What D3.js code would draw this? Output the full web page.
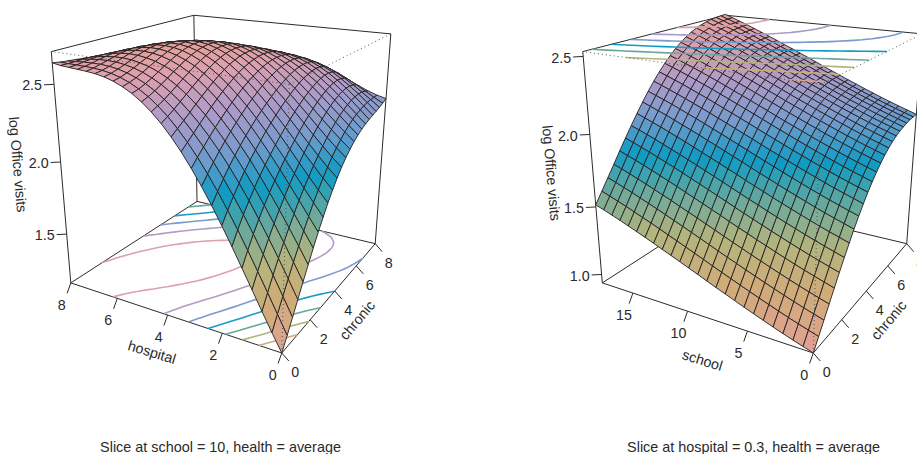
<!DOCTYPE html><html><head><meta charset="utf-8"><script src="https://cdn.jsdelivr.net/npm/d3@7"></script>
<style>html,body{margin:0;background:#fff}svg{display:block}text{font-family:"Liberation Sans",sans-serif;fill:#2a2a2a}</style></head><body><svg id="c" width="917" height="454"></svg>
<script>
// Left panel: log Office visits (thousandths); rows = hospital 0..8, columns = chronic 0..8, 25 grid lines each
const visitsByHospitalChronic=[
[1140,1218,1300,1383,1466,1547,1626,1702,1773,1840,1900,1955,2004,2046,2082,2113,2138,2159,2175,2189,2200,2211,2222,2235,2253],
[1253,1337,1420,1500,1578,1652,1722,1789,1852,1910,1964,2014,2059,2099,2134,2165,2191,2214,2231,2245,2256,2263,2267,2268,2268],
[1370,1457,1538,1615,1687,1754,1817,1877,1932,1984,2033,2077,2119,2156,2190,2220,2247,2269,2287,2301,2309,2313,2311,2303,2289],
[1490,1575,1653,1725,1792,1853,1910,1963,2013,2059,2103,2144,2181,2216,2248,2277,2303,2324,2341,2353,2360,2360,2353,2339,2315],
[1609,1690,1764,1831,1892,1948,2000,2048,2093,2135,2174,2211,2246,2278,2307,2334,2357,2377,2392,2402,2406,2403,2392,2372,2342],
[1726,1802,1870,1932,1988,2039,2086,2130,2171,2209,2245,2278,2310,2339,2366,2389,2410,2427,2439,2446,2447,2441,2426,2402,2367],
[1840,1908,1970,2026,2078,2125,2168,2208,2246,2281,2313,2344,2372,2398,2422,2442,2459,2472,2481,2485,2482,2472,2454,2427,2389],
[1948,2009,2064,2115,2162,2205,2245,2282,2317,2349,2379,2406,2432,2454,2474,2491,2504,2513,2517,2517,2510,2496,2475,2446,2406],
[2050,2102,2151,2197,2239,2279,2316,2351,2383,2413,2440,2465,2487,2506,2522,2534,2543,2547,2547,2541,2530,2513,2489,2457,2417],
[2144,2189,2231,2272,2311,2347,2382,2414,2444,2472,2496,2518,2537,2552,2564,2572,2575,2575,2569,2559,2543,2522,2494,2460,2419],
[2230,2267,2303,2340,2375,2409,2441,2472,2499,2525,2547,2566,2581,2592,2600,2603,2601,2595,2584,2569,2548,2522,2491,2454,2413],
[2307,2337,2368,2400,2432,2464,2494,2522,2548,2571,2591,2606,2618,2625,2628,2626,2620,2608,2591,2570,2544,2513,2479,2440,2397],
[2375,2399,2425,2454,2483,2512,2540,2566,2590,2611,2627,2640,2648,2651,2649,2642,2630,2613,2590,2563,2532,2497,2458,2416,2372],
[2433,2452,2474,2500,2526,2553,2579,2604,2625,2643,2657,2666,2670,2669,2662,2650,2632,2609,2581,2549,2512,2471,2428,2384,2338],
[2482,2497,2516,2539,2563,2588,2612,2633,2652,2668,2678,2684,2684,2679,2667,2650,2626,2598,2564,2526,2484,2438,2391,2343,2295],
[2522,2533,2550,2570,2593,2615,2637,2656,2673,2685,2692,2694,2690,2680,2663,2641,2612,2578,2539,2495,2448,2398,2346,2294,2243],
[2553,2563,2577,2596,2616,2636,2655,2672,2685,2694,2698,2696,2687,2673,2652,2624,2590,2551,2507,2458,2405,2350,2295,2239,2185],
[2577,2585,2598,2614,2632,2650,2667,2681,2691,2696,2696,2689,2677,2658,2632,2599,2561,2516,2467,2413,2356,2297,2237,2178,2121],
[2594,2601,2613,2627,2643,2659,2672,2683,2689,2690,2686,2675,2658,2635,2604,2567,2524,2475,2421,2363,2302,2239,2175,2113,2053],
[2605,2611,2622,2635,2648,2661,2671,2678,2680,2678,2669,2654,2633,2604,2569,2528,2480,2427,2369,2307,2243,2177,2110,2045,1984],
[2611,2617,2627,2637,2648,2658,2664,2667,2666,2658,2645,2626,2600,2567,2528,2482,2431,2374,2313,2248,2180,2112,2044,1977,1914],
[2615,2620,2627,2636,2643,2649,2652,2651,2645,2633,2616,2592,2561,2524,2481,2432,2377,2316,2252,2185,2116,2046,1977,1910,1848],
[2619,2621,2626,2631,2635,2637,2635,2629,2619,2603,2580,2552,2517,2476,2429,2376,2318,2255,2189,2120,2051,1981,1913,1848,1788],
[2623,2622,2622,2623,2623,2620,2614,2604,2588,2567,2541,2508,2469,2424,2373,2317,2256,2192,2124,2055,1986,1918,1852,1792,1738],
[2632,2624,2618,2614,2608,2600,2589,2574,2554,2529,2497,2460,2417,2369,2315,2256,2193,2127,2059,1991,1924,1859,1799,1745,1700]];
// Right panel: level along school at chronic = 0, and gain along chronic (thousandths)
const schoolLevel=[935,956,977,999,1022,1046,1070,1095,1120,1146,1171,1197,1224,1250,1276,1302,1327,1353,1378,1402,1426,1450,1472,1494,1515];
const chronicGain=[0,72,145,218,292,364,434,502,567,628,685,738,786,829,868,902,931,955,975,990,1002,1011,1017,1020,1022];
const visitsBySchoolChronic=schoolLevel.map(s=>chronicGain.map(c=>s+c));
const hospitalTicks=[0,2,4,6,8],schoolTicks=[0,5,10,15],chronicTicks=[0,2,4,6,8];
const zTicksLeft=[1.5,2,2.5],zTicksRight=[1,1.5,2,2.5];
const levelsLeft=[1.4,1.6,1.8,2,2.2,2.4,2.6],levelsRight=[1,1.2,1.4,1.6,1.8,2,2.2,2.4];
const palette=[[0,"#e2a096"],[.16,"#d0ac78"],[.29,"#b4b47d"],[.41,"#6eaa9b"],[.54,"#0f9bc3"],[.67,"#789bcd"],[.8,"#af9bc8"],[.92,"#dca0af"],[1,"#e4a09b"]];
// camera: azimuth, elevation, distance, z stretch, x scale, y scale, x centre, y centre
const camera=[1.0476,.3477,6.1804,.9839,724.0081,732.9117,231.0568,158.1961];
function proj(u,v,t){const [a,p,D,e,sx,sy,tx,ty]=camera;const X=2*u-1,Y=2*v-1,Z=(2*t-1)*e;
 const xe=-Math.sin(a)*X+Math.cos(a)*Y,yh=Math.cos(a)*X+Math.sin(a)*Y;
 const up=Z*Math.cos(p)+yh*Math.sin(p),dp=yh*Math.cos(p)-Z*Math.sin(p),w=D+dp;
 return [tx+sx*xe/w,ty-sy*up/w,w];}
const svg=d3.select("#c");
const col=d3.scaleLinear().domain(palette.map(s=>s[0])).range(palette.map(s=>s[1])).interpolate(d3.interpolateRgb);
function panel(o){
 const g=svg.append("g").attr("transform",`translate(${o.dx},0)`);
 const zt=d3.scaleLinear().domain(o.zlim).range([0,1]);
 const xs=d3.scaleLinear().domain([0,o.xm]).range([0,1]),ys=d3.scaleLinear().domain([0,8]).range([0,1]);
 const z=o.z.map(r=>r.map(v=>v/1000));
 const seg=(a,b,dash)=>{const p=proj(...a),q=proj(...b);g.append("line").attr("x1",p[0]).attr("y1",p[1]).attr("x2",q[0]).attr("y2",q[1]).attr("stroke",dash?"#555":"#2b2b2b").attr("stroke-width",1).attr("stroke-dasharray",dash?"1 3":null);};
 [[[0,0,0],[1,0,0]],[[0,0,0],[0,1,0]],[[1,0,0],[1,1,0]],[[0,1,0],[1,1,0]],[[1,0,0],[1,0,1]],[[0,1,0],[0,1,1]],[[1,1,0],[1,1,1]],[[1,0,1],[1,1,1]],[[0,1,1],[1,1,1]]].forEach(s=>seg(s[0],s[1]));
 const n=z.length;const line=d3.line();
 function contours(plane){
  const flat=[];for(let j=0;j<n;j++)for(let i=0;i<n;i++)flat.push(z[i][j]);
  o.levels.forEach(lv=>{const c=d3.contours().size([n,n]).thresholds([lv])(flat)[0];
   c.coordinates.forEach(poly=>poly.forEach(ring=>{let run=[];const flush=()=>{if(run.length>1)g.append("path").attr("d",line(run)).attr("fill","none").attr("stroke",col(zt(lv))).attr("stroke-width",1.6);run=[];};
    ring.forEach(pt=>{const x=pt[0]-.5,y=pt[1]-.5;if(x<-1e-6||y<-1e-6||x>n-1+1e-6||y>n-1+1e-6){flush();return;}const q=proj(x/(n-1),y/(n-1),plane);run.push([q[0],q[1]]);});flush();}));});}
 if(o.plane==0)contours(0);
 const quads=[];for(let i=0;i<n-1;i++)for(let j=0;j<n-1;j++){const id=[[i,j],[i+1,j],[i+1,j+1],[i,j+1]];const cs=id.map(([a,b])=>proj(a/(n-1),b/(n-1),zt(z[a][b])));
  quads.push({p:cs,d:d3.mean(cs,c=>c[2]),z:d3.mean(id,([a,b])=>zt(z[a][b]))});}
 quads.sort((a,b)=>b.d-a.d);
 g.selectAll("path.q").data(quads).join("path").attr("class","q").attr("d",q=>"M"+q.p.map(c=>c[0]+","+c[1]).join("L")+"Z").attr("fill",q=>col(q.z)).attr("stroke","#231f20").attr("stroke-width",.9).attr("stroke-linejoin","round");
 if(o.plane==1)contours(1);
 seg([0,0,0],[0,0,1],1);seg([0,0,1],[1,0,1],1);seg([0,0,1],[0,1,1],1);
 const tick=(p,dx,dy)=>g.append("line").attr("x1",p[0]).attr("y1",p[1]).attr("x2",p[0]+dx).attr("y2",p[1]+dy).attr("stroke","#2b2b2b");
 const txt=(x,y,s,anc,rot)=>{const t=g.append("text").attr("x",x).attr("y",y).attr("font-size",14.3).attr("text-anchor",anc||"middle").attr("dy",".36em").text(s);if(rot!=null)t.attr("transform",`rotate(${rot} ${x} ${y})`);};
 o.xt.forEach(v=>{const p=proj(xs(v),0,0);tick(p,-3.7,10.5);txt(p[0]-9,p[1]+21.5,v);});
 chronicTicks.forEach(v=>{const p=proj(0,ys(v),0);tick(p,7,8);txt(p[0]+13.5,p[1]+19,v);});
 o.zv.forEach(v=>{const p=proj(1,0,zt(v));tick(p,-10,.5);txt(p[0]-12,p[1]+1,v.toFixed(1),"end");});
 txt(o.xp[0],o.xp[1],o.xn,"middle",17);txt(357,320,"chronic","middle",-50);txt(o.zp[0],o.zp[1],"log Office visits","middle",85);
 g.append("text").attr("x",o.tx).attr("y",447).attr("font-size",14.4).attr("text-anchor","middle").attr("dy",".36em").text(o.title);
}
panel({dx:0,z:visitsByHospitalChronic,zlim:[1.14,2.70],plane:0,levels:levelsLeft,xt:hospitalTicks,xm:8,zv:zTicksLeft,xn:"hospital",xp:[152,352],zp:[18,164.5],tx:220.5,title:"Slice at school = 10, health = average"});
panel({dx:531.5,z:visitsBySchoolChronic,zlim:[.935,2.53],plane:1,levels:levelsRight,xt:schoolTicks,xm:18,zv:zTicksRight,xn:"school",xp:[171,360],zp:[20,173],tx:222,title:"Slice at hospital = 0.3, health = average"});
</script></body></html>
